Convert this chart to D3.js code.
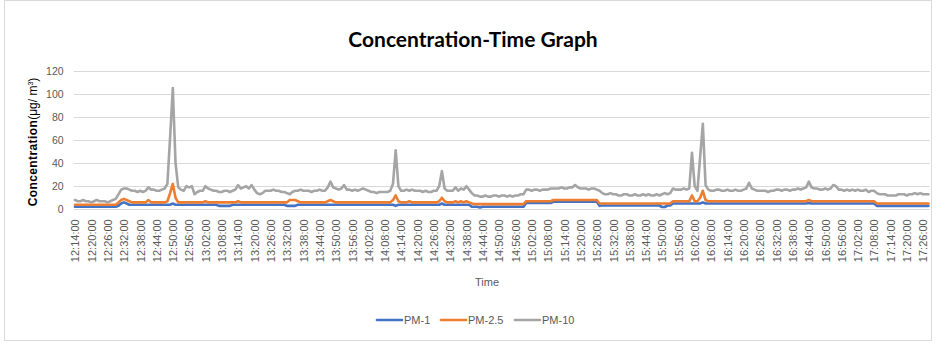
<!DOCTYPE html>
<html><head><meta charset="utf-8">
<script src="https://cdn.jsdelivr.net/npm/d3@7"></script>
<style>
html,body{margin:0;padding:0;background:#fff;}
svg{display:block;font-family:"Liberation Sans",Arial,sans-serif;}
</style></head>
<body>
<svg id="chart" width="948" height="349"></svg>
<script>
// ---- data (one value per minute, 12:14:00 .. 17:28:00) ----
const startTime = "12:14:00";
const seriesNames = ["PM-1", "PM-2.5", "PM-10"];
const seriesColors = ["#4472C4", "#ED7D31", "#A5A5A5"];

const pm10 = [
  8,7,7,8,7,7,6,7,8,7,7,7,6,7,8,9,
  13,17,18,18,17,16,16,15,16,15,16,19,17,17,16,16,17,18,
  22,62,105,40,19,
  17,16,20,19,20,13,15,16,16,20,18,17,16,
  16,15,15,16,16,15,16,17,
  21,18,19,20,18,21,17,14,13,14,16,
  16,16,17,16,16,15,15,14,13,15,16,16,17,16,16,16,15,16,16,17,16,16,
  19,24,19,18,17,18,21,17,17,16,17,16,
  17,18,17,16,15,15,14,15,15,15,15,16,22,
  51,
  20,16,16,17,16,17,16,16,16,15,16,15,15,16,16,20,
  33,
  18,16,16,16,19,16,18,17,20,17,
  14,12,12,11,11,12,11,11,12,12,11,12,12,11,12,11,12,12,13,13,
  17,17,16,17,17,16,17,17,17,18,18,18,18,19,18,18,19,19,21,19,18,18,18,17,18,18,17,16,
  14,13,13,14,13,13,12,12,13,13,12,12,13,12,12,13,12,13,12,12,13,12,13,14,13,14,
  18,17,17,17,18,17,18,
  49,20,16,45,74,21,
  17,16,16,17,17,16,16,17,16,16,17,16,16,17,18,
  23,
  18,17,16,16,16,16,15,16,16,17,17,16,17,17,16,17,17,18,17,18,19,
  24,
  19,18,18,17,17,18,17,18,21,20,17,17,16,17,16,17,16,17,16,16,17,15,16,16,
  14,13,13,13,12,12,12,12,13,13,13,12,13,13,14,13,14,13,13,13
];

const pm25 = [
  4,4,4,4,4,4,4,4,4,4,4,4,4,4,4,4,
  6,8,9,8,7,6,6,6,6,6,6,8,6,6,6,6,6,6,
  7,14,22,10,6,
  6,6,6,6,6,6,6,6,6,7,6,6,6,
  6,6,6,6,6,6,6,6,
  7,6,6,6,6,6,6,6,6,6,6,
  6,6,6,6,6,6,6,6,8,8,8,7,6,6,6,6,6,6,6,6,6,6,
  7,8,7,6,6,6,6,6,6,6,6,6,
  6,6,6,6,6,6,6,6,6,6,6,6,8,
  12,
  7,6,6,6,7,6,6,6,6,6,6,6,6,6,6,7,
  10,
  7,6,6,6,7,6,7,6,7,6,
  5,4.5,4.5,4.5,4.5,4.5,4.5,4.5,4.5,4.5,4.5,4.5,4.5,4.5,4.5,4.5,4.5,4.5,4.5,4.5,
  7,7,7,7,7,7,7,7,7,7,8,8,8,8,8,8,8,8,8,8,8,8,8,8,8,8,8,5,
  5,5,5,5,5,5,5,5,5,5,5,5,5,5,5,5,5,5,5,5,5,5,5,5,5,5,
  7,7,7,7,7,7,7,
  12,7,7,10,16,8,
  7,7,7,7,7,7,7,7,7,7,7,7,7,7,7,
  7,
  7,7,7,7,7,7,7,7,7,7,7,7,7,7,7,7,7,7,7,7,7,
  8,
  7,7,7,7,7,7,7,7,7,7,7,7,7,7,7,7,7,7,7,7,7,7,7,7,
  5,5,5,5,5,5,5,5,5,5,5,5,5,5,5,5,5,5,5,5
];

const pm1 = [
  2.2,2.2,2.2,2.2,2.2,2.2,2.2,2.2,2.2,2.2,2.2,2.2,2.2,2.2,2.2,2.2,
  3,5,6,5,4,4,4,4,4,4,4,4,4,4,4,4,4,4,
  4,4,5,4,4,
  4,4,4,4,4,4,4,4,4,4,4,4,4,
  4,3,3,3,3,3,4,4,
  4,4,4,4,4,4,4,4,4,4,4,
  4,4,4,4,4,4,4,3,3,3,3,4,4,4,4,4,4,4,4,4,4,4,
  4,4,4,4,4,4,4,4,4,4,4,4,
  4,4,4,4,4,4,4,4,4,4,4,4,4,
  3,
  4,4,4,4,4,4,4,4,4,4,4,4,4,4,4,4,
  5,
  4,4,4,4,4,4,4,4,4,4,
  2.2,2.2,2.2,1.5,2.2,2.2,2.2,2.2,2.2,2.2,2.2,2.2,2.2,2.2,2.2,2.2,2.2,2.2,2.2,2.2,
  5.5,5.5,5.5,5.5,5.5,5.5,5.5,5.5,5.5,5.5,6.5,6.5,6.5,6.5,6.5,6.5,6.5,6.5,6.5,6.5,6.5,6.5,6.5,6.5,6.5,6.5,6.5,3,
  3.3,3.3,3.3,3.3,3.3,3.3,3.3,3.3,3.3,3.3,3.3,3.3,3.3,3.3,3.3,3.3,3.3,3.3,3.3,3.3,3.3,3.3,2,2,3.3,3.3,
  5,5,5,5,5,5,5,
  5,5,5,5,6,5,
  5,5,5,5,5,5,5,5,5,5,5,5,5,5,5,
  5,
  5,5,5,5,5,5,5,5,5,5,5,5,5,5,5,5,5,5,5,5,5,
  5.5,
  5,5,5,5,5,5,5,5,5,5,5,5,5,5,5,5,5,5,5,5,5,5,5,5,
  3,3,3,3,3,3,3,3,3,3,3,3,3,3,3,3,3,3,3,3
];

const yTicks = [0, 20, 40, 60, 80, 100, 120];
const xTickLabels = [
  "12:14:00","12:20:00","12:26:00","12:32:00","12:38:00","12:44:00","12:50:00","12:56:00",
  "13:02:00","13:08:00","13:14:00","13:20:00","13:26:00","13:32:00","13:38:00","13:44:00",
  "13:50:00","13:56:00","14:02:00","14:08:00","14:14:00","14:20:00","14:26:00","14:32:00",
  "14:38:00","14:44:00","14:50:00","14:56:00","15:02:00","15:08:00","15:14:00","15:20:00",
  "15:26:00","15:32:00","15:38:00","15:44:00","15:50:00","15:56:00","16:02:00","16:08:00",
  "16:14:00","16:20:00","16:26:00","16:32:00","16:38:00","16:44:00","16:50:00","16:56:00",
  "17:02:00","17:08:00","17:14:00","17:20:00","17:26:00"
];

// category labels (one per minute)
const pad = n => String(n).padStart(2, "0");
const [h0, m0] = startTime.split(":").map(Number);
const times = pm10.map((_, i) => {
  const t = h0 * 60 + m0 + i;
  return pad(Math.floor(t / 60)) + ":" + pad(t % 60) + ":00";
});

// ---- drawing ----
const svg = d3.select("#chart");

svg.append("rect").attr("x", 4.5).attr("y", 0.5).attr("width", 927).attr("height", 340)
  .attr("fill", "#fff").attr("stroke", "#d9d9d9").attr("stroke-width", 1);

const plot = {left: 73.6, right: 929.8, top: 70.7, bottom: 209.3};

const x = d3.scalePoint().domain(times).range([plot.left, plot.right]).padding(0.5);
const y = d3.scaleLinear().domain([0, 120]).range([plot.bottom, plot.top]);

// gridlines
svg.append("g").selectAll("line").data(yTicks).join("line")
  .attr("x1", plot.left).attr("x2", plot.right)
  .attr("y1", d => Math.round(y(d)) + 0.5).attr("y2", d => Math.round(y(d)) + 0.5)
  .attr("stroke", "#d9d9d9").attr("stroke-width", 1);

// y axis labels
const yAxis = d3.axisLeft(y).tickValues(yTicks).tickSize(0).tickPadding(0);
const gy = svg.append("g").attr("transform", `translate(${plot.left - 10},0)`).call(yAxis);
gy.select(".domain").remove();
gy.selectAll("text").attr("fill", "#595959").style("font-size", "10.5px")
  .style("font-family", "'Liberation Sans',Arial,sans-serif");

// x axis labels
const xAxis = d3.axisBottom(x).tickValues(xTickLabels).tickSize(0).tickPadding(0);
const gx = svg.append("g").attr("transform", `translate(0,${plot.bottom})`).call(xAxis);
gx.select(".domain").remove();
gx.selectAll("text")
  .attr("fill", "#595959").style("font-size", "11px")
  .style("font-family", "'Liberation Sans',Arial,sans-serif")
  .attr("text-anchor", "end")
  .attr("transform", "rotate(-90)")
  .attr("x", -10).attr("y", 0).attr("dy", "0.35em");

// lines
const series = [pm1, pm25, pm10];
const line = d3.line().x((d, i) => x(times[i])).y(d => y(d));
series.forEach((s, k) => {
  svg.append("path").datum(s).attr("d", line)
    .attr("fill", "none").attr("stroke", seriesColors[k])
    .attr("stroke-width", 2.6).attr("stroke-linejoin", "round").attr("stroke-linecap", "round");
});

// title
svg.append("text").attr("x", 473).attr("y", 47).attr("text-anchor", "middle")
  .style("font-family", "Lato, 'Liberation Sans', sans-serif").style("font-weight", "bold")
  .style("font-size", "21px").attr("fill", "#000").text("Concentration-Time Graph");

// y axis title
const yt = svg.append("text").attr("transform", "translate(37,142) rotate(-90)")
  .attr("text-anchor", "middle").attr("fill", "#000").style("font-size", "12px");
yt.append("tspan").style("font-weight", "bold").style("letter-spacing", "0.4px").text("Concentration");
yt.append("tspan").text("(μg/ m");
yt.append("tspan").attr("dy", "-4").style("font-size", "7px").text("3");
yt.append("tspan").attr("dy", "4").text(")");

// x axis title
svg.append("text").attr("x", 487).attr("y", 286).attr("text-anchor", "middle")
  .attr("fill", "#595959").style("font-size", "11px").text("Time");

// legend
const legendItems = [
  {name: seriesNames[0], color: seriesColors[0], x: 377},
  {name: seriesNames[1], color: seriesColors[1], x: 441},
  {name: seriesNames[2], color: seriesColors[2], x: 515}
];
const lg = svg.append("g");
legendItems.forEach(d => {
  lg.append("line").attr("x1", d.x).attr("x2", d.x + 25).attr("y1", 320).attr("y2", 320)
    .attr("stroke", d.color).attr("stroke-width", 2.6).attr("stroke-linecap", "round");
  lg.append("text").attr("x", d.x + 27).attr("y", 320).attr("dy", "0.35em")
    .attr("fill", "#595959").style("font-size", "11px").text(d.name);
});
</script>
</body></html>
